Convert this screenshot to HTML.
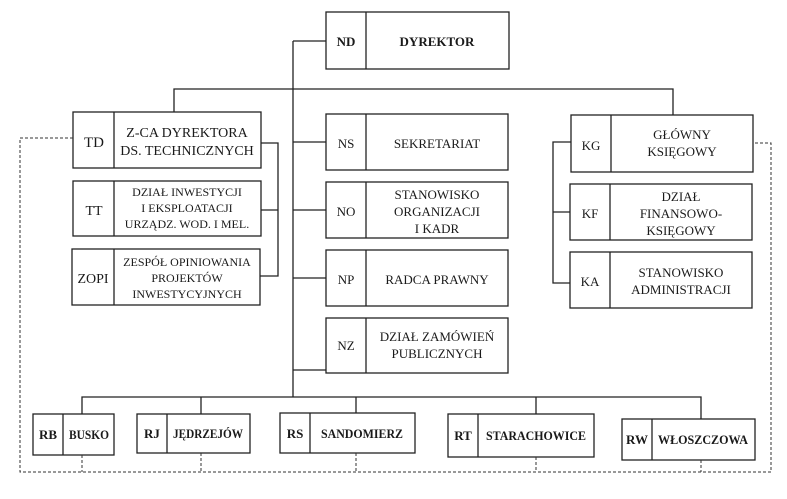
<!DOCTYPE html>
<html><head><meta charset="utf-8"><style>
html,body{margin:0;padding:0;background:#fff;}
svg text{font-family:"Liberation Serif",serif;font-size:13px;fill:#1a1a1a;text-anchor:middle;}
.b{font-weight:bold;}
</style></head><body>
<svg width="787" height="494" viewBox="0 0 787 494" xmlns="http://www.w3.org/2000/svg">
<g fill="none" stroke="#222" stroke-width="1.3">
<path d="M293 41H326M293 41V397M293 142H326M293 210H326M293 278H326M293 370H326"/>
<path d="M174 112V89H673V115"/>
<path d="M261 143H278V276H260M261 210H278"/>
<path d="M571 142H553V283H570M553 212H570"/>
<path d="M82 414V397H701V419M201 397V414M356 397V413M536 397V414"/>
<rect x="326" y="12" width="183" height="57"/><path d="M366 12V69"/>
<rect x="73" y="112" width="188" height="56"/><path d="M114 112V168"/>
<rect x="73" y="181" width="188" height="55"/><path d="M114 181V236"/>
<rect x="72" y="249" width="188" height="56"/><path d="M114 249V305"/>
<rect x="326" y="114" width="182" height="56"/><path d="M366 114V170"/>
<rect x="326" y="182" width="182" height="56"/><path d="M366 182V238"/>
<rect x="326" y="250" width="182" height="56"/><path d="M366 250V306"/>
<rect x="326" y="318" width="182" height="55"/><path d="M366 318V373"/>
<rect x="571" y="115" width="182" height="57"/><path d="M611 115V172"/>
<rect x="570" y="184" width="182" height="56"/><path d="M610 184V240"/>
<rect x="570" y="252" width="182" height="56"/><path d="M610 252V308"/>
<rect x="33" y="414" width="81" height="41"/><path d="M63 414V455"/>
<rect x="137" y="414" width="113" height="39"/><path d="M167 414V453"/>
<rect x="280" y="413" width="135" height="40"/><path d="M310 413V453"/>
<rect x="448" y="414" width="146" height="43"/><path d="M478 414V457"/>
<rect x="622" y="419" width="133" height="41"/><path d="M652 419V460"/>
</g>
<g fill="none" stroke="#333" stroke-width="1" stroke-dasharray="3,2">
<path d="M73 138H20V472H771V143H753"/>
<path d="M82 455V472M201 453V472M356 453V472M536 457V472M701 460V472"/>
</g>
<text x="346" y="46" class="b">ND</text><text x="437" y="46" class="b">DYREKTOR</text>
<text x="94" y="147" style="font-size:15px">TD</text>
<text x="187" y="137" style="font-size:14px">Z-CA DYREKTORA</text><text x="187" y="155" style="font-size:14px">DS. TECHNICZNYCH</text>
<text x="94" y="215" style="font-size:14px">TT</text>
<text x="187" y="196" style="font-size:12px">DZIAŁ INWESTYCJI</text><text x="187" y="212" style="font-size:12px">I EKSPLOATACJI</text><text x="187" y="228" style="font-size:12px">URZĄDZ. WOD. I MEL.</text>
<text x="93" y="283" style="font-size:14px">ZOPI</text>
<text x="187" y="266" style="font-size:12px">ZESPÓŁ OPINIOWANIA</text><text x="187" y="282" style="font-size:12px">PROJEKTÓW</text><text x="187" y="298" style="font-size:12px">INWESTYCYJNYCH</text>
<text x="346" y="148">NS</text><text x="437" y="148">SEKRETARIAT</text>
<text x="346" y="216">NO</text>
<text x="437" y="199">STANOWISKO</text><text x="437" y="216">ORGANIZACJI</text><text x="437" y="233">I KADR</text>
<text x="346" y="284">NP</text><text x="437" y="284">RADCA PRAWNY</text>
<text x="346" y="350">NZ</text>
<text x="437" y="341">DZIAŁ ZAMÓWIEŃ</text><text x="437" y="358">PUBLICZNYCH</text>
<text x="591" y="150">KG</text>
<text x="682" y="139">GŁÓWNY</text><text x="682" y="156">KSIĘGOWY</text>
<text x="590" y="218">KF</text>
<text x="681" y="201">DZIAŁ</text><text x="681" y="218">FINANSOWO-</text><text x="681" y="235">KSIĘGOWY</text>
<text x="590" y="286">KA</text>
<text x="681" y="277">STANOWISKO</text><text x="681" y="294">ADMINISTRACJI</text>
<g style="font-size:11px">
<text x="48" y="439" class="b">RB</text><text x="89" y="439" class="b" textLength="40" lengthAdjust="spacingAndGlyphs">BUSKO</text>
<text x="152" y="438" class="b">RJ</text><text x="208" y="438" class="b" textLength="70" lengthAdjust="spacingAndGlyphs">JĘDRZEJÓW</text>
<text x="295" y="438" class="b">RS</text><text x="362" y="438" class="b" textLength="82" lengthAdjust="spacingAndGlyphs">SANDOMIERZ</text>
<text x="463" y="440" class="b">RT</text><text x="536" y="440" class="b" textLength="100" lengthAdjust="spacingAndGlyphs">STARACHOWICE</text>
<text x="637" y="444" class="b">RW</text><text x="703" y="444" class="b" textLength="90" lengthAdjust="spacingAndGlyphs">WŁOSZCZOWA</text>
</g>
</svg>
</body></html>
